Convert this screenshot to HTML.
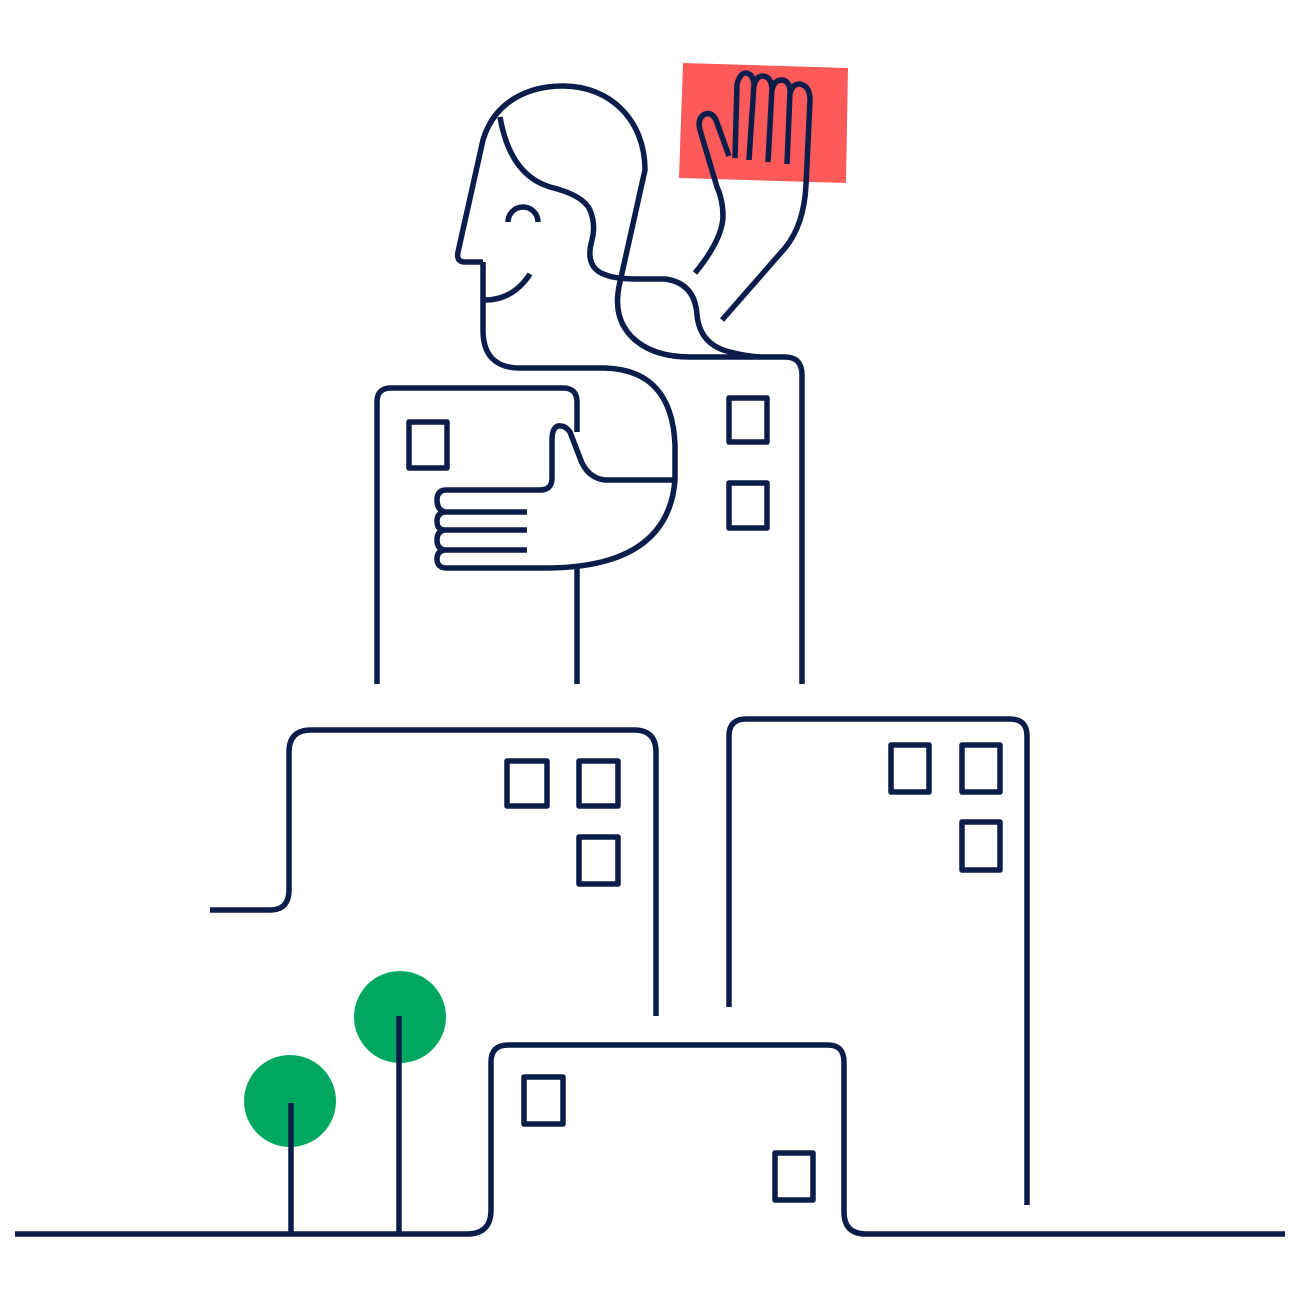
<!DOCTYPE html>
<html><head><meta charset="utf-8"><style>html,body{margin:0;padding:0;background:#fff}svg{display:block}</style></head>
<body>
<svg width="1300" height="1300" viewBox="0 0 1300 1300" xmlns="http://www.w3.org/2000/svg">
<polygon points="683,63 848,68 846,183 679,178" fill="#fe5a5a"/>
<circle cx="290" cy="1101" r="46" fill="#00a85f"/>
<circle cx="400" cy="1017" r="46" fill="#00a85f"/>
<g fill="none" stroke="#0b1d4a" stroke-width="5.5" stroke-linejoin="round">
<!-- head -->
<path d="M483,262 L465,262 Q456,262 458,252 L483,140 C495,100 530,86 563,86 C610,86 645,120 645,170 L620,282 Q612,315 630,335 Q650,357 690,357 L785,357 Q802,357 802,375 L802,684"/>
<path d="M483,262 L483,330 Q483,368 520,368 L605,368 Q672,370 675,445 L675,480 Q668,568 545,568"/>
<path d="M500,117 Q510,175 550,187 Q583,195 590,210 Q596,225 592,240 Q584,268 606,275 Q615,279 640,279 L665,279 Q695,283 697,315 Q700,345 730,352 Q745,356 760,357"/>
<path d="M485,300 Q513,300 530,274"/>
<path d="M508,222 A15,15 0 0 1 538,222"/>
<!-- raised arm -->
<path d="M695,273 Q722,240 723,217 Q723,200 717,187 L700,130 Q697,118 705,114 Q712,112 716,120 L729,156 M735,158 L737,84 Q740,73 746,73 Q753,74 754,84 L749,160 M754,86 Q756,76 763,76 Q771,77 772,88 L768,162 M772,90 Q774,80 782,80 Q790,81 790,92 L787,164 M790,94 Q792,84 800,84 Q810,86 810,100 L806,185 Q804,225 785,248 L722,320"/>
<!-- upper building -->
<path d="M377,684 L377,402 Q377,388 391,388 L563,388 Q577,388 577,402 L577,432"/>
<path d="M577,568 L577,684"/>
<path d="M675,480 L605,480 Q587,478 580,458 L570,432 Q565,425 558,426 Q552,428 552,440 L552,478 Q552,490 540,490 L445,490 Q437,491 437,500 Q437,510 445,512 L527,512 M445,512 Q437,513 437,521 Q437,530 445,530 L527,530 M445,530 Q437,531 437,540 Q437,549 445,550 L527,550 M445,550 Q437,551 437,559 Q437,568 447,568 L545,568"/>
<rect x="409" y="422" width="38" height="46"/>
<rect x="729" y="398" width="38" height="44"/>
<rect x="729" y="483" width="38" height="45"/>
<!-- middle left -->
<path d="M210,910 L270,910 Q289,910 289,890 L289,752 Q289,730 311,730 L634,730 Q656,730 656,752 L656,1016"/>
<rect x="507" y="761" width="40" height="45"/>
<rect x="579" y="761" width="39" height="45"/>
<rect x="579" y="837" width="39" height="47"/>
<!-- middle right -->
<path d="M729,1007 L729,736 Q729,719 746,719 L1010,719 Q1027,719 1027,736 L1027,1205"/>
<rect x="891" y="745" width="38" height="47"/>
<rect x="962" y="745" width="38" height="47"/>
<rect x="962" y="822" width="38" height="48"/>
<!-- bottom -->
<path d="M15,1234 L467,1234 Q491,1234 491,1210 L491,1062 Q491,1045 508,1045 L828,1045 Q844,1045 844,1062 L844,1212 Q844,1234 866,1234 L1285,1234"/>
<rect x="524" y="1077" width="39" height="47"/>
<rect x="775" y="1153" width="38" height="47"/>
<path d="M291,1103 L291,1234 M399,1016 L399,1234"/>
</g>
</svg>
</body></html>
